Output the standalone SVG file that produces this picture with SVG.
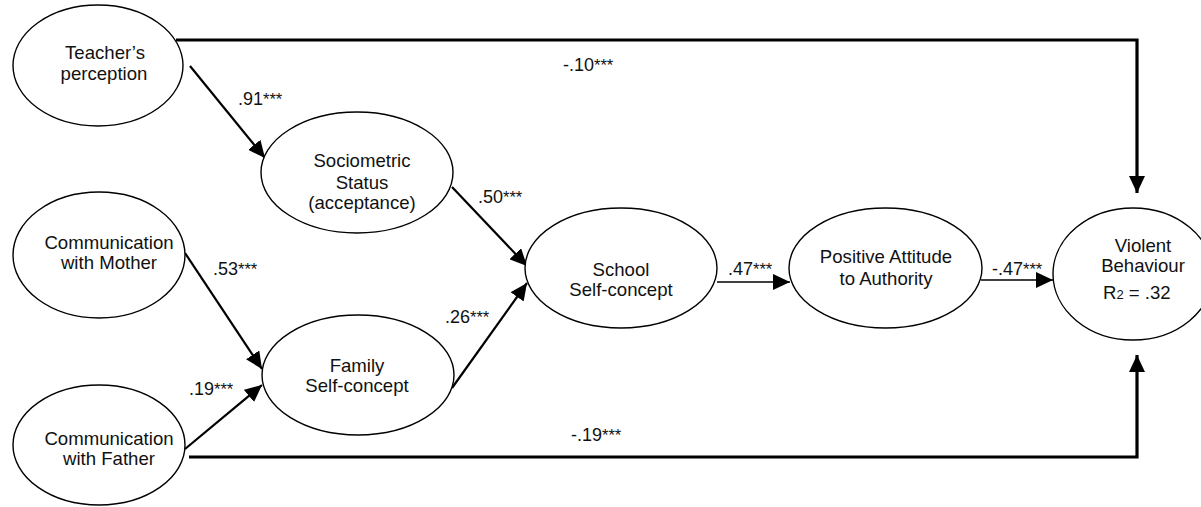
<svg xmlns="http://www.w3.org/2000/svg" width="1201" height="507" viewBox="0 0 1201 507">
<style>
.n{fill:#fff;stroke:#000;stroke-width:1.4}
.t{font-family:"Liberation Sans",Arial,sans-serif;font-size:18.6px;fill:#111;text-anchor:middle}
.l{font-family:"Liberation Sans",Arial,sans-serif;font-size:18px;fill:#111}
.s{font-size:16.5px}
.a{fill:none;stroke:#000;stroke-width:2.2}
.h{fill:none;stroke:#000;stroke-width:1.6}
.b{fill:none;stroke:#000;stroke-width:3.2}
</style>
<defs>
<marker id="ah" markerUnits="userSpaceOnUse" markerWidth="18" markerHeight="16" refX="17" refY="8" orient="auto"><path d="M0,0 L17,8 L0,16 z" fill="#000"/></marker>
</defs>
<rect width="1201" height="507" fill="#fff"/>
<g id="connectors">
<path class="b" d="M176,40 H1137 V193" marker-end="url(#ah)"/>
<path class="b" d="M189,457 H1137 V355" marker-end="url(#ah)"/>
<line class="a" x1="190" y1="66" x2="265" y2="158" marker-end="url(#ah)"/>
<line class="a" x1="452" y1="187" x2="527" y2="266" marker-end="url(#ah)"/>
<line class="a" x1="185" y1="253" x2="262" y2="369" marker-end="url(#ah)"/>
<line class="a" x1="185" y1="449" x2="262" y2="385" marker-end="url(#ah)"/>
<line class="a" x1="452" y1="388" x2="527" y2="283" marker-end="url(#ah)"/>
<line class="h" x1="717" y1="282" x2="790" y2="282" marker-end="url(#ah)"/>
<line class="h" x1="981" y1="280" x2="1053" y2="280" marker-end="url(#ah)"/>
<text class="l" x="238" y="105">.91<tspan class="s">***</tspan></text>
<text class="l" x="563" y="71">-.10<tspan class="s">***</tspan></text>
<text class="l" x="478" y="203">.50<tspan class="s">***</tspan></text>
<text class="l" x="213" y="275">.53<tspan class="s">***</tspan></text>
<text class="l" x="189" y="395">.19<tspan class="s">***</tspan></text>
<text class="l" x="445" y="323">.26<tspan class="s">***</tspan></text>
<text class="l" x="728" y="275">.47<tspan class="s">***</tspan></text>
<text class="l" x="992" y="275">-.47<tspan class="s">***</tspan></text>
<text class="l" x="571" y="441">-.19<tspan class="s">***</tspan></text>
</g>
<g id="teacher">
<ellipse class="n" cx="98" cy="65.5" rx="85" ry="60.5"/>
<text class="t" x="105" y="59">Teacher’s</text>
<text class="t" x="104" y="80">perception</text>
</g>
<g id="sociometric">
<ellipse class="n" cx="357" cy="172.5" rx="96" ry="60.5"/>
<text class="t" x="362" y="167">Sociometric</text>
<text class="t" x="362" y="189">Status</text>
<text class="t" x="362" y="209">(acceptance)</text>
</g>
<g id="mother">
<ellipse class="n" cx="99" cy="255" rx="86" ry="63"/>
<text class="t" x="109" y="249">Communication</text>
<text class="t" x="109" y="269">with Mother</text>
</g>
<g id="father">
<ellipse class="n" cx="99" cy="445" rx="86" ry="60"/>
<text class="t" x="109" y="445">Communication</text>
<text class="t" x="109" y="465">with Father</text>
</g>
<g id="family">
<ellipse class="n" cx="358" cy="375" rx="96" ry="60"/>
<text class="t" x="357" y="372">Family</text>
<text class="t" x="357" y="392">Self-concept</text>
</g>
<g id="school">
<ellipse class="n" cx="621" cy="268" rx="96" ry="60"/>
<text class="t" x="621" y="276">School</text>
<text class="t" x="621" y="296">Self-concept</text>
</g>
<g id="attitude">
<ellipse class="n" cx="885.5" cy="268" rx="96.5" ry="60"/>
<text class="t" x="886" y="263">Positive Attitude</text>
<text class="t" x="886" y="285">to Authority</text>
</g>
<g id="violent">
<ellipse class="n" cx="1133" cy="274" rx="80" ry="66"/>
<text class="t" x="1143" y="252">Violent</text>
<text class="t" x="1143" y="272">Behaviour</text>
<text class="l" x="1103" y="299" style="font-size:18.6px">R<tspan style="font-size:13px">2</tspan>  = .32</text>
</g>
</svg>
